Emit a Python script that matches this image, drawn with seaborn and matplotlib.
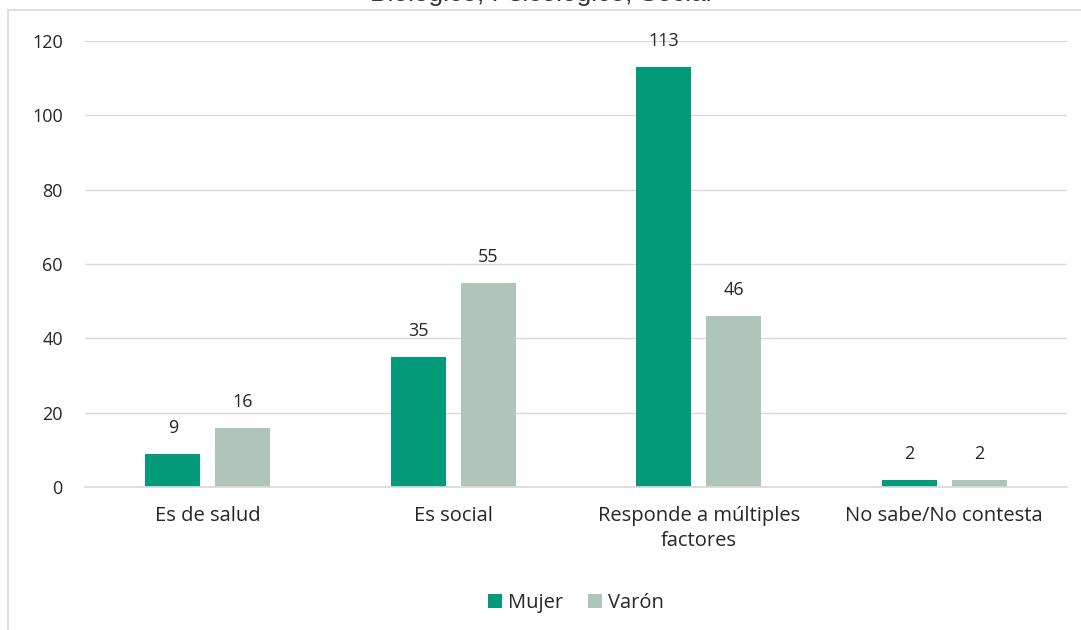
import numpy as np
import pandas as pd
import seaborn as sns
import matplotlib.pyplot as plt
from matplotlib.patches import Rectangle

# data
categorias = ['Es de salud', 'Es social', 'Responde a múltiples\nfactores', 'No sabe/No contesta']
mujer = [9, 35, 113, 2]
varon = [16, 55, 46, 2]
series = ['Mujer', 'Varón']
y_ticks = [0, 20, 40, 60, 80, 100, 120]

df = pd.DataFrame({
    'categoria': categorias * 2,
    'valor': mujer + varon,
    'sexo': [series[0]] * len(mujer) + [series[1]] * len(varon),
})

sns.set_theme(style='white')
plt.rcParams['font.family'] = ['Open Sans', 'DejaVu Sans']

fig = plt.figure(figsize=(10.81, 6.30), dpi=100)
ax = fig.add_axes([85 / 1081, 1 - 487 / 630, (1067 - 85) / 1081, (487 - 41) / 630])

# outer chart border
fig.patches.append(Rectangle((8 / 1081, -0.01), 1.0, 1 - 10 / 630 + 0.01,
                             transform=fig.transFigure, fill=False,
                             edgecolor='#D9D9D9', linewidth=1.2))

# title, clipped at the top like in the original
fig.text(0.5, 1 - 1.5 / 630, 'Biológico, Psicológico, Social', ha='center',
         va='baseline', fontsize=19, family=['Liberation Sans', 'DejaVu Sans'],
         color='#333333')

colores = {'Mujer': '#039A7A', 'Varón': '#AFC5B9'}
sns.barplot(data=df, x='categoria', y='valor', hue='sexo', palette=colores,
            width=0.57, gap=0.21, saturation=1, linewidth=0, edgecolor='none',
            ax=ax, legend=True)

for c in ax.containers:
    ax.bar_label(c, padding=12, fontsize=13, color='#262626')

ax.set_ylim(0, 120)
ax.set_yticks(y_ticks)
ax.set_xlim(-0.5, len(categorias) - 0.5)
ax.yaxis.grid(True, color='#D9D9D9', linewidth=1)
ax.set_axisbelow(True)
for s in ['top', 'right', 'left']:
    ax.spines[s].set_visible(False)
ax.spines['bottom'].set_color('#D9D9D9')
ax.tick_params(axis='y', length=0, pad=16, labelsize=13, labelcolor='#262626')
ax.tick_params(axis='x', length=0, pad=14, labelsize=14.5, labelcolor='#262626')
for t in ax.get_xticklabels():
    t.set_linespacing(1.3)
ax.set_xlabel('')
ax.set_ylabel('')

leg = ax.legend(loc='center', bbox_to_anchor=(0.5, 1 - (601 - 41) / (487 - 41) - 0.005),
                ncol=2, frameon=False, fontsize=14.5, handlelength=0.7,
                handleheight=0.7, handletextpad=0.3, columnspacing=1.2)

fig.savefig('out.png', dpi=100)
